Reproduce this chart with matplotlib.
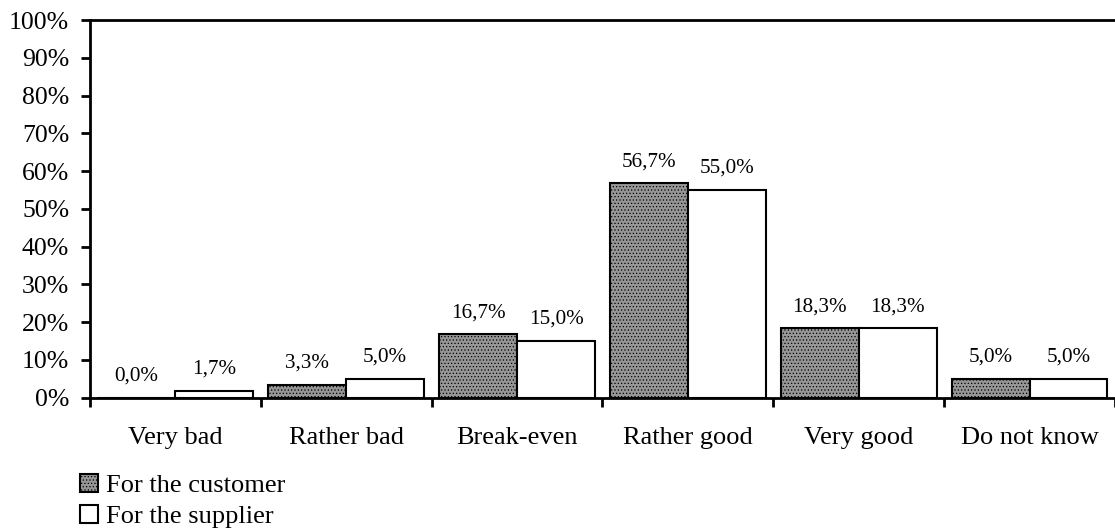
import matplotlib
matplotlib.use("Agg")
import matplotlib.pyplot as plt
import numpy as np
from matplotlib.patches import Patch
from matplotlib.ticker import FixedLocator, FuncFormatter

plt.rcParams['font.family'] = ['Liberation Serif', 'DejaVu Serif']
plt.rcParams['hatch.linewidth'] = 0.5

# data
categories = ['Very bad', 'Rather bad', 'Break-even', 'Rather good', 'Very good', 'Do not know']
customer = [0.0, 3.3, 16.7, 56.7, 18.3, 5.0]
supplier = [1.7, 5.0, 15.0, 55.0, 18.3, 5.0]
series_names = ['For the customer', 'For the supplier']

fig = plt.figure(figsize=(11.15, 5.31), dpi=100)
ax = fig.add_axes([0.0807, 0.2514, 0.9193, 0.7109])

x = np.arange(len(categories))
w = 0.456
bars_c = ax.bar(x - w / 2, customer, w, facecolor='#969696', edgecolor='black',
                linewidth=1.5, hatch='.....')
bars_s = ax.bar(x + w / 2, supplier, w, facecolor='white', edgecolor='black',
                linewidth=1.5)

for bars, vals in [(bars_c, customer), (bars_s, supplier)]:
    for b, v in zip(bars, vals):
        ax.annotate(f"{v:.1f}%".replace('.', ','),
                    (b.get_x() + b.get_width() / 2, v),
                    xytext=(0, 12.5), textcoords='offset points',
                    ha='center', va='baseline', fontsize=15.2)

ax.set_xlim(-0.5, len(categories) - 0.5)
ax.set_ylim(0, 100)

ax.yaxis.set_major_locator(FixedLocator(np.arange(0, 101, 10)))
ax.yaxis.set_major_formatter(FuncFormatter(lambda v, p: f"{v:.0f}%"))
ax.tick_params(axis='y', direction='out', length=6.5, width=2, labelsize=18.5, pad=8.5)

ax.xaxis.set_major_locator(FixedLocator(np.arange(-0.5, len(categories), 1.0)))
ax.xaxis.set_major_formatter(FuncFormatter(lambda v, p: ''))
ax.xaxis.set_minor_locator(FixedLocator(x))
ax.set_xticklabels(categories, minor=True)
ax.tick_params(axis='x', which='major', direction='out', length=6.5, width=2)
ax.tick_params(axis='x', which='minor', length=0, labelsize=19, pad=21)

for s in ['left', 'bottom', 'top']:
    ax.spines[s].set_linewidth(2)
ax.spines['right'].set_visible(False)

handles = [Patch(facecolor='#969696', edgecolor='black', hatch='.....', linewidth=1.5),
           Patch(facecolor='white', edgecolor='black', linewidth=1.5)]
fig.legend(handles, series_names, loc='upper left', bbox_to_anchor=(0.072, 0.108),
           frameon=False, fontsize=19, handlelength=0.68, handleheight=0.68,
           handletextpad=0.3, labelspacing=0.3, borderpad=0, borderaxespad=0)

fig.savefig('out.png', dpi=100)
